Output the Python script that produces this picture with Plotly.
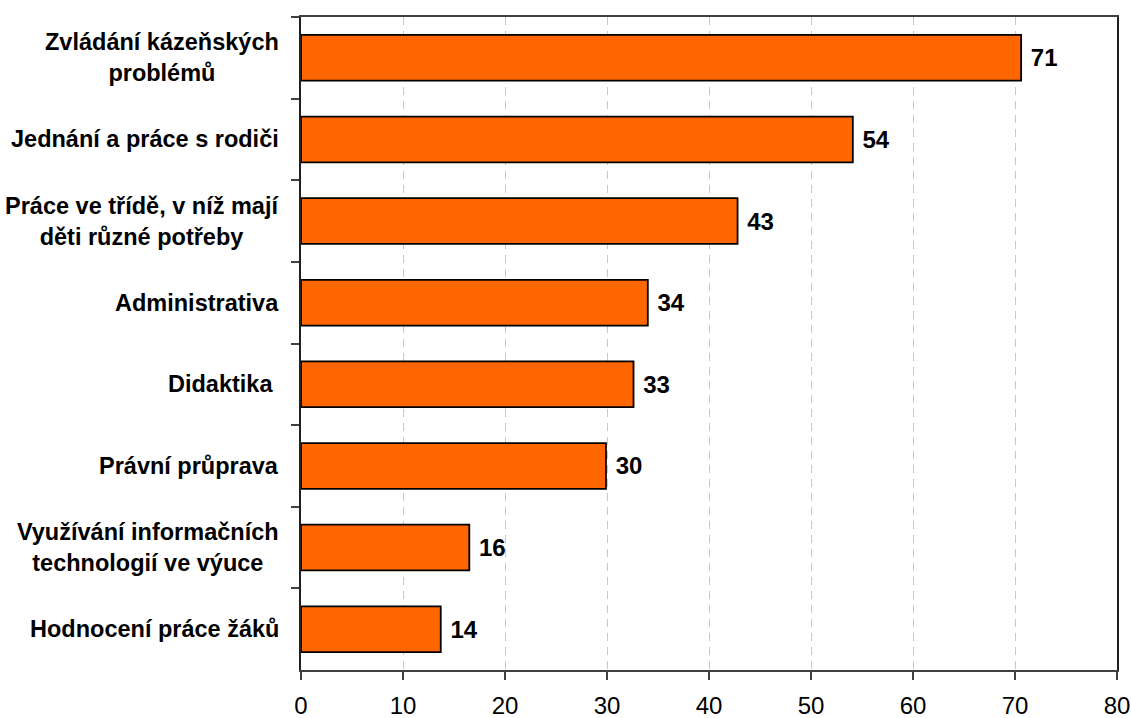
import plotly.graph_objects as go

categories = [
    "Zvládání kázeňských<br>problémů",
    "Jednání a práce s rodiči",
    "Práce ve třídě, v níž mají<br>děti různé potřeby",
    "Administrativa",
    "Didaktika ",
    "Právní průprava",
    "Využívání informačních<br>technologií ve výuce",
    "Hodnocení práce žáků",
]
values = [70.6, 54.1, 42.8, 34.0, 32.6, 29.9, 16.5, 13.7]
labels = ["71", "54", "43", "34", "33", "30", "16", "14"]
x_ticks = [0, 10, 20, 30, 40, 50, 60, 70, 80]

FONT = "Liberation Sans, Arial, sans-serif"

fig = go.Figure()
fig.add_trace(go.Bar(
    x=values,
    y=categories,
    orientation="h",
    marker=dict(color="#FF6600", line=dict(color="#000000", width=1.8)),
    width=0.56,
    text=[" " + t for t in labels],
    textposition="outside",
    textfont=dict(family=FONT, size=24, color="#000000", weight="bold"),
    cliponaxis=False,
    hoverinfo="skip",
))

for c in categories:
    fig.add_annotation(
        x=0, xref="paper", y=c, yref="y",
        text="<b>" + c + "</b>",
        showarrow=False,
        xanchor="right", yanchor="middle",
        align="center",
        xshift=-20,
        font=dict(family=FONT, size=23.5, color="#000000"),
    )

fig.update_layout(
    width=1131, height=718,
    margin=dict(l=301, r=14, t=17, b=48),
    paper_bgcolor="white",
    plot_bgcolor="white",
    showlegend=False,
    font=dict(family=FONT, color="#000000"),
)
fig.update_xaxes(
    range=[0, 80],
    tickvals=x_ticks,
    ticktext=[str(v) for v in x_ticks],
    tickfont=dict(family=FONT, size=24, color="#000000"),
    ticklabelstandoff=5,
    showgrid=True,
    gridcolor="#c8c8c8",
    griddash="8px,6px",
    gridwidth=1,
    ticks="outside",
    ticklen=8,
    tickcolor="#404040",
    tickwidth=1.5,
    showline=True,
    linecolor="#404040",
    linewidth=1.5,
    mirror=True,
    zeroline=False,
    automargin=False,
)
fig.update_yaxes(
    categoryorder="array",
    categoryarray=categories,
    autorange="reversed",
    showticklabels=False,
    ticks="outside",
    tickson="boundaries",
    ticklen=8,
    tickcolor="#404040",
    tickwidth=1.5,
    showgrid=False,
    showline=True,
    linecolor="#202020",
    linewidth=1.5,
    mirror=True,
    automargin=False,
)

fig.write_html(
    "out.html",
    config={"displayModeBar": False},
    post_script="document.body.style.margin='0';document.body.style.overflow='hidden';",
)
